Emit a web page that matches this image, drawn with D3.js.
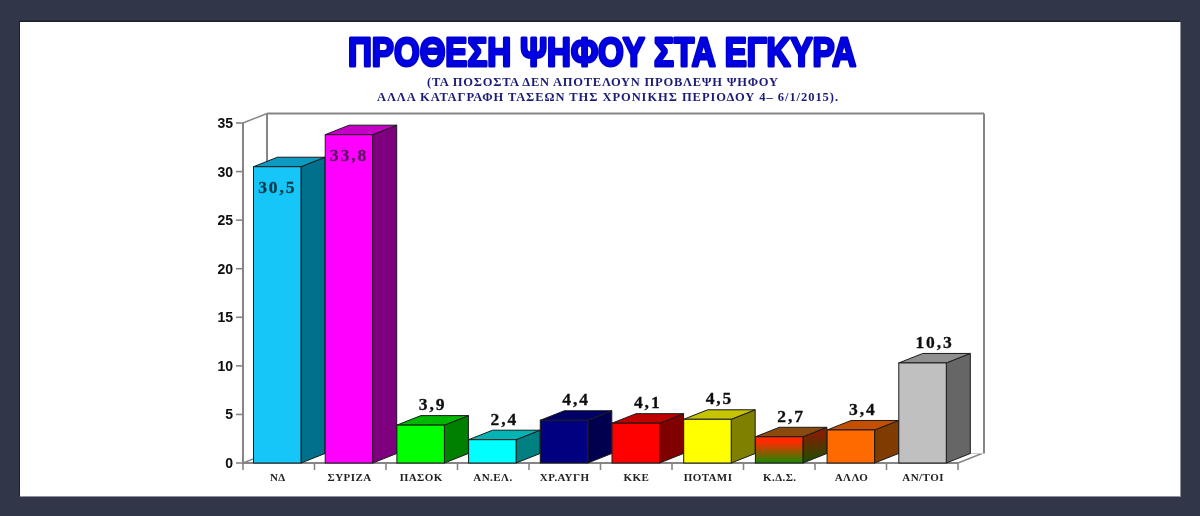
<!DOCTYPE html>
<html><head><meta charset="utf-8">
<script src="https://cdn.jsdelivr.net/npm/d3@7/dist/d3.min.js"></script>
<style>html,body{margin:0;padding:0;background:#313649;overflow:hidden}svg{display:block}</style>
</head><body><svg id="c" width="1200" height="516"></svg>
<script>
const categories=["ΝΔ","ΣΥΡΙΖΑ","ΠΑΣΟΚ","ΑΝ.ΕΛ.","ΧΡ.ΑΥΓΗ","ΚΚΕ","ΠΟΤΑΜΙ","Κ.Δ.Σ.","ΑΛΛΟ","ΑΝ/ΤΟΙ"];
const values=[30.5,33.8,3.9,2.4,4.4,4.1,4.5,2.7,3.4,10.3];
const valueLabels=["30,5","33,8","3,9","2,4","4,4","4,1","4,5","2,7","3,4","10,3"];
const frontColors=["#12c6f8","#ff00ff","#00ff00","#00ffff","#000080","#ff0000","#ffff00","url(#kds)","#ff6a00","#c0c0c0"];
const topColors=["#0e9ac0","#c400c4","#00b800","#00b4b4","#000066","#bf0000","#c4c400","#8a4a10","#c45000","#8f8f8f"];
const sideColors=["#006f8c","#7f007f","#008000","#008080","#000050","#800000","#808000","url(#kdsSide)","#803a00","#666666"];
const yTicks=[0,5,10,15,20,25,30,35];
const title="ΠΡΟΘΕΣΗ ΨΗΦΟΥ ΣΤΑ ΕΓΚΥΡΑ";
const subtitle=["(ΤΑ ΠΟΣΟΣΤΑ ΔΕΝ ΑΠΟΤΕΛΟΥΝ ΠΡΟΒΛΕΨΗ ΨΗΦΟΥ","ΑΛΛΑ ΚΑΤΑΓΡΑΦΗ ΤΑΣΕΩΝ ΤΗΣ ΧΡΟΝΙΚΗΣ ΠΕΡΙΟΔΟΥ 4– 6/1/2015)."];

const svg=d3.select("#c");
const defs=svg.append("defs");
function grad(id,a,b){const g=defs.append("linearGradient").attr("id",id).attr("x1",0).attr("y1",0).attr("x2",0).attr("y2",1);
 g.append("stop").attr("offset","20%").attr("stop-color",a);g.append("stop").attr("offset","100%").attr("stop-color",b);}
grad("kds","#ff2a00","#1a8a00");grad("kdsSide","#802000","#1a5000");
const f=defs.append("filter").attr("id","soft").attr("filterUnits","userSpaceOnUse").attr("x",0).attr("y",0).attr("width",1200).attr("height",516);
f.append("feGaussianBlur").attr("stdDeviation",0.55);

svg.append("rect").attr("x",19).attr("y",20.5).attr("width",1161).attr("height",475).attr("fill","#1d2029");
svg.append("rect").attr("x",20).attr("y",22).attr("width",1161).attr("height",475).attr("fill","#8f93a0");
svg.append("rect").attr("x",20).attr("y",22).attr("width",1160).attr("height",474).attr("fill","#fff");
const root=svg.append("g").attr("filter","url(#soft)");

const x=d3.scaleBand().domain(categories).range([242,959]).padding(0);
const y=d3.scaleLinear().domain([0,35]).range([463,123]);
const dx=24,dy=9.5,barOff=11.5,barW=47.5;
const AX="#858585";

const line=(a,b,c,d,col=AX,w=2)=>root.append("line").attr("x1",a).attr("y1",b).attr("x2",c).attr("y2",d).attr("stroke",col).attr("stroke-width",w);
const L=243,R=958;
line(L,y(35),L,y(0));line(L,y(0),R,y(0));
line(L,y(0),L+dx,y(0)-dy,AX,1.4);line(L,y(35),L+dx,y(35)-dy,AX,1.4);
line(L+dx,y(35)-dy,L+dx,y(0)-dy);
line(L+dx,y(35)-dy,R+dx+2,y(35)-dy);
line(R+dx+2,y(35)-dy,R+dx+2,y(0)-dy);
line(R,y(0),R+dx,y(0)-dy,AX,1.4);line(L+dx,y(0)-dy,R+dx+2,y(0)-dy,"#c8c8c8",1);
yTicks.forEach(t=>{line(236,y(t),L,y(t),AX,1.6);
 root.append("text").attr("x",233).attr("y",y(t)+5).attr("text-anchor","end")
  .attr("font-family","Liberation Sans").attr("font-weight","bold").attr("font-size",14).attr("fill","#0a0a0a").text(t);});
categories.concat(["end"]).forEach((c,i)=>{const px=L+i*(R-L)/10;line(px,y(0),px,y(0)+7,AX,1.6);});

const bars=root.selectAll("g.bar").data(categories).join("g").attr("class","bar");
bars.each(function(c,i){
 const g=d3.select(this),x0=x(c)+barOff,x1=x0+barW,t=y(values[i]),b=y(0);
 const sw=1,sc="#1a1a1a";
 g.append("polygon").attr("points",[[x1,t],[x1+dx,t-dy],[x1+dx,b-dy],[x1,b]].join(" ")).attr("fill",sideColors[i]).attr("stroke",sc).attr("stroke-width",sw);
 g.append("polygon").attr("points",[[x0,t],[x0+dx,t-dy],[x1+dx,t-dy],[x1,t]].join(" ")).attr("fill",topColors[i]).attr("stroke",sc).attr("stroke-width",sw);
 g.append("rect").attr("x",x0).attr("y",t).attr("width",barW).attr("height",b-t).attr("fill",frontColors[i]).attr("stroke",sc).attr("stroke-width",sw);
});
categories.forEach((c,i)=>{
 const inside=values[i]>30, cx=x(c)+barOff+barW/2+(inside?0:12);
 root.append("text").attr("x",cx).attr("y",inside?y(values[i])+26:y(values[i])-15).attr("text-anchor","middle")
  .attr("font-family","Liberation Serif").attr("font-weight","bold").attr("font-size",17.5).attr("letter-spacing",1.9)
  .attr("stroke-width",.3).attr("stroke",i==0?"#0b3a4a":i==1?"#5a1560":"#111")
  .attr("fill",i==0?"#0b3a4a":i==1?"#5a1560":"#111").text(valueLabels[i]);
 root.append("text").attr("x",x(c)+x.bandwidth()/2).attr("y",481).attr("text-anchor","middle")
  .attr("font-family","Liberation Serif").attr("font-weight","bold").attr("font-size",11).attr("letter-spacing",.45).attr("fill","#222").text(c);
});
root.append("text").attr("x",602).attr("y",65.5).attr("text-anchor","middle")
 .attr("font-family","Liberation Sans Narrow, Liberation Sans").attr("font-weight","bold").attr("font-size",41)
 .attr("textLength",508).attr("lengthAdjust","spacingAndGlyphs")
 .attr("fill","#0000f0").attr("stroke","#0000d0").attr("stroke-width",3).attr("stroke-linejoin","round").text(title);
const subW=[351,461];
subtitle.forEach((s,i)=>root.append("text").attr("x",i?607.5:602.5).attr("y",i?100.5:85.5).attr("text-anchor","middle")
 .attr("font-family","Liberation Serif").attr("font-weight","bold").attr("font-size",12.5)
 .attr("textLength",subW[i]).attr("lengthAdjust","spacing").attr("fill","#1c1c78").text(s));
</script></body></html>
